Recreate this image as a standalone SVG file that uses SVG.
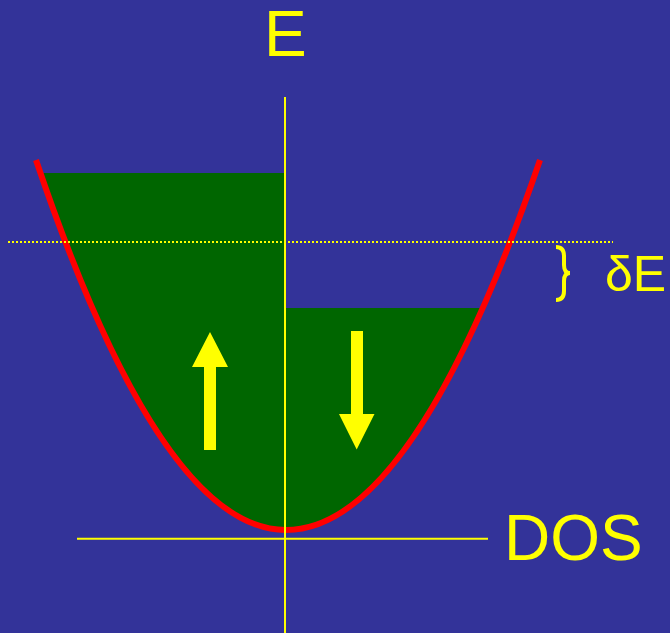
<svg xmlns="http://www.w3.org/2000/svg" width="670" height="633" viewBox="0 0 670 633">
<style>
.lbl{font-family:"Liberation Sans",Arial,sans-serif;fill:#ffff00}
.axis{stroke:#ffff00;stroke-width:2;fill:none}
.arrow{fill:#ffff00}
</style>
<defs>
<clipPath id="bowl"><path d="M36,160 Q161,530 286,530 Q413,530 540,160 Z"/></clipPath>
</defs>
<rect width="670" height="633" fill="#333399"/>
<g id="fill" clip-path="url(#bowl)">
<rect x="0" y="173" width="286" height="370" fill="#006600"/>
<rect x="286" y="308" width="300" height="235" fill="#006600"/>
</g>
<g id="curve">
<path d="M36,160 Q161,530 286,530 Q413,530 540,160" fill="none" stroke="#ff0000" stroke-width="6"/>
</g>
<g id="connectors">
<line class="axis" x1="285" y1="97" x2="285" y2="633" stroke-width="1.8"/>
<line class="axis" x1="77" y1="538.8" x2="488" y2="538.8" stroke-width="1.8"/>
<line class="axis" x1="8" y1="242" x2="613" y2="242" stroke-dasharray="2,2"/>
</g>
<g id="up-arrow">
<polygon class="arrow" points="210,332 228,367 216,367 216,450 204,450 204,367 192,367"/>
</g>
<g id="down-arrow">
<polygon class="arrow" points="351,331 363,331 363,414 374.5,414 356.7,449.5 339,414 351,414"/>
</g>
<g id="label-E"><text class="lbl" x="264" y="56" font-size="64">E</text></g>
<g id="label-DOS"><text class="lbl" x="504" y="560" font-size="64">DOS</text></g>
<g id="label-dE">
<path d="M556,247 Q564,247 564,256 L564,265 Q564,273 570,273 Q564,273 564,281 L564,291 Q564,300 556,300" fill="none" stroke="#ffff00" stroke-width="4"/>
<text class="lbl" x="605" y="290.7" font-size="50">δE</text>
</g>
</svg>
